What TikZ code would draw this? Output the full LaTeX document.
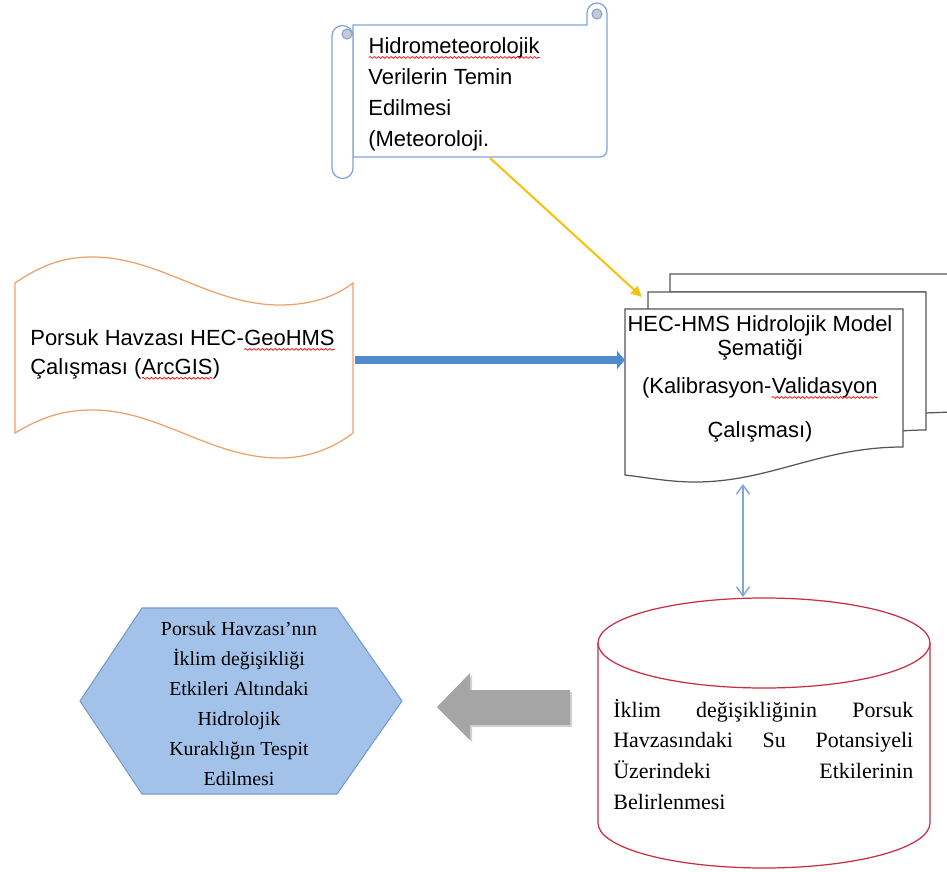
\documentclass[tikz,border=0pt]{standalone}
\usepackage{fontspec}
\setmainfont{Liberation Serif}
\newfontfamily\arialfont{Liberation Sans}
\usepackage{xcolor}
\usetikzlibrary{arrows.meta, shadows, decorations.pathmorphing}

\definecolor{scrollblue}{RGB}{128,164,214}
\definecolor{curlgray}{RGB}{200,202,208}
\definecolor{waveorange}{RGB}{236,160,105}
\definecolor{flowblue}{RGB}{80,140,205}
\definecolor{feedyellow}{RGB}{245,195,20}
\definecolor{docgray}{RGB}{85,85,85}
\definecolor{linkblue}{RGB}{125,165,215}
\definecolor{dbred}{RGB}{200,45,65}
\definecolor{hexfill}{RGB}{163,194,233}
\definecolor{hexline}{RGB}{120,155,205}
\definecolor{blockgray}{RGB}{165,165,165}

% red spell-check wave under a word
\newcommand{\spellwave}[1]{\tikz[baseline=(sw.base)]{\node[inner sep=0pt, outer sep=0pt] (sw) {#1};
    \draw[red, line width=0.4pt, decorate, decoration={snake, amplitude=0.5pt, segment length=2.4pt}]
        ([yshift=-2.4pt]sw.base west) -- ([yshift=-2.4pt]sw.base east);}}

\begin{document}
\begin{tikzpicture}[x=0.02cm, y=-0.02cm,
        sanstext/.style={font=\arialfont\fontsize{12.5}{17.6}\selectfont, inner sep=0pt},
        seriftext/.style={font=\fontsize{12.5}{17.6}\selectfont, inner sep=0pt},
        scrollline/.style={draw=scrollblue, fill=white, line width=0.7pt},
        curl/.style={draw=scrollblue, fill=curlgray, line width=0.6pt},
        waveline/.style={draw=waveorange, fill=white, line width=0.7pt},
        docline/.style={draw=docgray, fill=white, line width=0.7pt},
        dbline/.style={draw=dbred, fill=white, line width=0.7pt},
        hexshape/.style={draw=hexline, fill=hexfill, line width=0.6pt},
        bluearrow/.style={-{Triangle[length=1.6mm, width=3.6mm]}, flowblue, line width=5pt},
        yellowarrow/.style={-{Triangle[length=2.2mm, width=2mm]}, feedyellow, line width=1.2pt},
        linkarrow/.style={{Straight Barb[length=1.8mm, width=2.6mm]}-{Straight Barb[length=1.8mm, width=2.6mm]}, linkblue, line width=0.8pt}
    ]
        \useasboundingbox (0,0) rectangle (947,872);

        % Scroll: hydrometeorological data
        \draw[scrollline] (353,25) -- (587,25) -- (587,13) arc[start angle=180, end angle=360, radius=10]
            -- (607,150) arc[start angle=0, end angle=90, radius=7] -- (353,157) -- cycle;
        \draw[scrollline] (353,168) arc[start angle=0, end angle=180, radius=10.5]
            -- (332,36) arc[start angle=180, end angle=360, radius=10.5] -- cycle;
        \draw[curl] (347,34) circle[radius=5];
        \draw[curl] (597,14) circle[radius=5];
        \begin{scope}
            \clip (353,25) rectangle (607,156);
            \node[sanstext, anchor=base west, align=left] (veri) at (368,146)
                {\spellwave{Hidrometeorolojik}\\ Verilerin Temin\\ Edilmesi\\ (Meteoroloji.};
        \end{scope}

        % Wave: HEC-GeoHMS study
        \draw[waveline] (15,283) .. controls (40,266) and (62,257) .. (92,257)
            .. controls (160,257) and (210,305) .. (280,305)
            .. controls (310,305) and (335,297) .. (353,283) -- (353,433)
            .. controls (335,447) and (310,458) .. (280,458)
            .. controls (210,458) and (160,410) .. (92,410)
            .. controls (62,410) and (40,418) .. (15,433) -- cycle;
        \node[sanstext, font=\arialfont\fontsize{12.5}{16.4}\selectfont, anchor=base west, align=left] (gis) at (30,374)
            {Porsuk Havzası HEC-\spellwave{GeoHMS}\\ Çalışması (\spellwave{ArcGIS})};

        % Multi-document: HEC-HMS model
        \draw[docline] (670,274) -- (952,274) -- (952,412) -- (925,413) -- (925,292) -- (670,292) -- cycle;
        \draw[docline] (648,292) -- (926,292) -- (926,430) .. controls (843,430) and (793,465) .. (718,465)
            .. controls (693,465) and (673,461) .. (648,458) -- cycle;
        \draw[docline] (625,309) -- (903,309) -- (903,447) .. controls (820,447) and (770,482) .. (695,482)
            .. controls (670,482) and (650,478) .. (625,475) -- cycle;
        \node[sanstext, font=\arialfont\fontsize{12.5}{13.6}\selectfont, anchor=base, align=center] (hms) at (760,437)
            {HEC-HMS Hidrolojik Model\\ Şematiği\\[7.9pt] (Kalibrasyon-\spellwave{Validasyon}\\[11.3pt] Çalışması)};

        % Cylinder: climate change effects
        \draw[dbline] (598,643) -- (598,823) arc[start angle=180, end angle=0, x radius=166, y radius=45]
            -- (930,643) arc[start angle=0, end angle=-180, x radius=166, y radius=45] -- cycle;
        \draw[dbline, fill=none] (598,643) arc[start angle=180, end angle=0, x radius=166, y radius=45];
        \node[seriftext, anchor=base west, text width=6cm, align=justify] (etki) at (613,717)
            {İklim değişikliğinin Porsuk\linebreak Havzasındaki Su Potansiyeli\linebreak Üzerindeki Etkilerinin\linebreak Belirlenmesi};

        % Hexagon: drought result
        \draw[hexshape] (142,608) -- (337,608) -- (402,701) -- (337,794) -- (142,794) -- (80,701) -- cycle;
        \node[seriftext, font=\fontsize{11.3}{17}\selectfont, anchor=base, align=center] (kurak) at (239,785)
            {Porsuk Havzası’nın\\ İklim değişikliği\\ Etkileri Altındaki\\ Hidrolojik\\ Kuraklığın Tespit\\ Edilmesi};

        % Connectors
        \coordinate (veri-s) at (490,158);
        \coordinate (hms-nw) at (642,297);
        \coordinate (gis-e) at (355,360);
        \coordinate (hms-w) at (625,360);
        \coordinate (hms-s) at (743,484);
        \coordinate (etki-n) at (743,597);
        \draw[yellowarrow] (veri-s) -- (hms-nw);
        \draw[bluearrow] (gis-e) -- (hms-w);
        \draw[linkarrow] (hms-s) -- (etki-n);

        % Block arrow from cylinder to hexagon
        \fill[blockgray, drop shadow={opacity=0.35, shadow xshift=1.2pt, shadow yshift=-1.2pt}]
            (570,690) -- (470,690) -- (470,673) -- (437,707) -- (470,740) -- (470,725) -- (570,725) -- cycle;

    \end{tikzpicture}
\end{document}
